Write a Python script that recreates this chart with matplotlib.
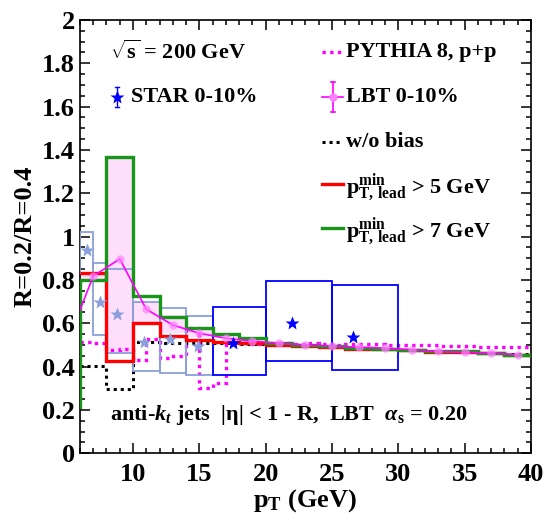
import numpy as np
import matplotlib
matplotlib.use("Agg")
import matplotlib.pyplot as plt
from matplotlib.patches import Rectangle


OUTPUT_FILE = "out.png"

# histogram bin edges (GeV)
EDGES = np.arange(6, 41, 2)
GREEN_EDGES = np.concatenate([[4], EDGES])
PYTHIA_EDGES = np.arange(6, 41, 1)
LBT_X = np.arange(5, 40, 2)

pythia = [0.515, 0.51, 0.477, 0.48, 0.43, 0.526, 0.438, 0.449, 0.577, 0.30, 0.324, 0.515,
          0.51, 0.505, 0.505, 0.51, 0.505, 0.51, 0.505, 0.50, 0.505, 0.505, 0.505,
          0.50, 0.50, 0.50, 0.50, 0.495, 0.495, 0.495, 0.49, 0.49, 0.49, 0.49]
no_bias = [0.403, 0.297, 0.514, 0.51, 0.51, 0.51, 0.505, 0.50, 0.495, 0.49, 0.485,
           0.48, 0.475, 0.47, 0.47, 0.465, 0.46]
lead5 = [0.831, 0.427, 0.603, 0.543, 0.523, 0.515, 0.51, 0.50, 0.495, 0.49, 0.48,
         0.48, 0.477, 0.467, 0.466, 0.461, 0.454]
lead7 = [0.215, 0.80, 1.367, 0.727, 0.630, 0.577, 0.549, 0.531, 0.51, 0.50, 0.495,
         0.485, 0.48, 0.477, 0.47, 0.47, 0.465, 0.455]
band_hi = [0.831, 1.367, 0.70, 0.638, 0.577, 0.549, 0.531, 0.51, 0.50, 0.495, 0.485,
           0.48, 0.477, 0.47, 0.47, 0.465, 0.455]
band_lo = [0.80, 0.469, 0.607, 0.555, 0.538, 0.53, 0.515, 0.50, 0.495, 0.49, 0.48,
           0.48, 0.477, 0.467, 0.466, 0.461, 0.454]
lbt = [0.504, 0.818, 0.897, 0.665, 0.592, 0.554, 0.531, 0.518, 0.508, 0.50, 0.495,
       0.49, 0.485, 0.478, 0.47, 0.466, 0.463, 0.455]

# STAR 0-10% points and systematic boxes
star_x = [6.5, 7.5, 8.8, 10.8, 12.8, 14.9, 17.5, 22.0, 26.6]
star_y = [0.938, 0.70, 0.643, 0.515, 0.526, 0.495, 0.51, 0.60, 0.538]
box_x0 = [6, 7, 8, 10, 12, 14, 16, 20, 25]
box_x1 = [7, 8, 10, 12, 14, 16, 20, 25, 30]
sys_lo = [0.831, 0.546, 0.461, 0.38, 0.372, 0.361, 0.361, 0.426, 0.384]
sys_hi = [1.023, 0.88, 0.849, 0.70, 0.669, 0.634, 0.674, 0.795, 0.777]
N_FADED = 6

LIGHT_BLUE = "#8a9fdc"
BLUE = "#0000ff"
MAGENTA = "#ff00ff"
RED = "#ff0000"
GREEN = "#189618"
PINK = "#fddffc"

FS_TICK = 19
FS_TEXT = 16


def setup_fonts():
    plt.rcParams["font.family"] = ["Liberation Serif", "DejaVu Serif"]
    plt.rcParams["font.weight"] = "bold"
    plt.rcParams["axes.labelweight"] = "bold"
    plt.rcParams["mathtext.fontset"] = "custom"
    plt.rcParams["mathtext.rm"] = "Liberation Serif:bold"
    plt.rcParams["mathtext.bf"] = "Liberation Serif:bold"
    plt.rcParams["mathtext.it"] = "Liberation Serif:bold:italic"
    plt.rcParams["mathtext.sf"] = "Liberation Serif:bold"


def draw_data(ax):
    ax.stairs(band_hi, EDGES, baseline=band_lo, fill=True, color=PINK, zorder=1)
    ax.stairs(no_bias, EDGES, baseline=None, color="black", lw=2.2,
              linestyle=(0, (1, 1.3)), zorder=2)
    ax.stairs(pythia, PYTHIA_EDGES, baseline=None, color=MAGENTA, lw=2.4,
              linestyle=(0, (1, 1.3)), zorder=3)

    for i in range(len(star_x)):
        col = LIGHT_BLUE if i < N_FADED else BLUE
        ax.add_patch(Rectangle((box_x0[i], sys_lo[i]), box_x1[i] - box_x0[i],
                               sys_hi[i] - sys_lo[i], fill=False, edgecolor=col,
                               lw=1.3, zorder=4))

    ax.stairs(lead5, EDGES, baseline=None, color=RED, lw=2.4, zorder=5)
    ax.stairs(lead7, GREEN_EDGES, baseline=None, color=GREEN, lw=2.4, zorder=5)

    ax.plot(LBT_X, lbt, color=MAGENTA, lw=1.2, zorder=6)
    ax.plot(LBT_X, lbt, "o", color="#ff80ff", ms=6, alpha=0.7, mec="none", zorder=6)

    ax.plot(star_x[:N_FADED], star_y[:N_FADED], "*", color=LIGHT_BLUE, ms=10,
            mec="none", zorder=7)
    ax.plot(star_x[N_FADED:], star_y[N_FADED:], "*", color=BLUE, ms=10,
            mec="none", zorder=7)


def draw_legend(ax):
    tr = ax.transAxes
    ax.text(0.066, 0.926, r"$\sqrt{\mathrm{s}}$ = 200 GeV", transform=tr,
            fontsize=FS_TEXT, va="center", ha="left")

    ax.plot([0.082, 0.082], [0.80, 0.845], color=BLUE, lw=1, transform=tr)
    ax.plot([0.077, 0.087], [0.80, 0.80], color=BLUE, lw=1, transform=tr)
    ax.plot([0.077, 0.087], [0.845, 0.845], color=BLUE, lw=1, transform=tr)
    ax.plot([0.082], [0.822], "*", color=BLUE, ms=10, mec="none", transform=tr)
    ax.text(0.113, 0.822, "STAR 0-10%", transform=tr, fontsize=FS_TEXT,
            va="center", ha="left")

    ax.plot([0.537, 0.583], [0.926, 0.926], color=MAGENTA, lw=2.4,
            linestyle=(0, (1, 1.3)), transform=tr)
    ax.text(0.59, 0.926, "PYTHIA 8, p+p", transform=tr, fontsize=FS_TEXT,
            va="center", ha="left")

    ax.plot([0.537, 0.583], [0.822, 0.822], color=MAGENTA, lw=1.2, transform=tr)
    ax.plot([0.561, 0.561], [0.787, 0.857], color=MAGENTA, lw=1.2, transform=tr)
    ax.plot([0.556, 0.566], [0.787, 0.787], color=MAGENTA, lw=1.2, transform=tr)
    ax.plot([0.556, 0.566], [0.857, 0.857], color=MAGENTA, lw=1.2, transform=tr)
    ax.plot([0.561], [0.822], "o", color="#ff80ff", ms=6, mec="none", transform=tr)
    ax.text(0.59, 0.822, "LBT 0-10%", transform=tr, fontsize=FS_TEXT,
            va="center", ha="left")

    ax.plot([0.537, 0.583], [0.718, 0.718], color="black", lw=2.2,
            linestyle=(0, (1, 1.3)), transform=tr)
    ax.text(0.59, 0.718, "w/o bias", transform=tr, fontsize=FS_TEXT,
            va="center", ha="left")

    lead = r"$\mathrm{p}_{\mathrm{T,\,lead}}^{\mathrm{min}}$"
    ax.plot([0.537, 0.583], [0.621, 0.621], color=RED, lw=2.4, transform=tr)
    ax.text(0.59, 0.612, lead + " > 5 GeV", transform=tr, fontsize=FS_TEXT,
            va="center", ha="left")
    ax.plot([0.537, 0.583], [0.52, 0.52], color=GREEN, lw=2.4, transform=tr)
    ax.text(0.59, 0.511, lead + " > 7 GeV", transform=tr, fontsize=FS_TEXT,
            va="center", ha="left")

    ax.text(0.066, 0.088,
            r"anti-$\mathit{k_t}$ jets  |η| < 1 - R,  LBT  $\alpha_{\mathrm{s}}$ = 0.20",
            transform=tr, fontsize=FS_TEXT, va="center", ha="left")


def style_axes(ax):
    ax.set_xlim(6, 40)
    ax.set_ylim(0, 2)
    ax.set_xticks([10, 15, 20, 25, 30, 35, 40])
    ax.set_xticks(np.arange(6, 41, 1), minor=True)
    ax.set_yticks(np.arange(0, 2.01, 0.2))
    ax.set_yticks(np.arange(0, 2.01, 0.05), minor=True)
    ax.set_yticklabels(["0", "0.2", "0.4", "0.6", "0.8", "1", "1.2", "1.4",
                        "1.6", "1.8", "2"])
    ax.tick_params(which="both", direction="in", top=True, right=True,
                   labelsize=FS_TICK, width=1.1)
    ax.tick_params(which="major", length=7)
    ax.tick_params(which="minor", length=3.5)
    ax.tick_params(axis="x", pad=7)
    for s in ax.spines.values():
        s.set_linewidth(1.2)
    ax.set_xlabel(r"$\mathrm{p}_{\mathrm{T}}$ (GeV)", fontsize=FS_TICK, labelpad=1)
    ax.set_ylabel("R=0.2/R=0.4", fontsize=FS_TICK, labelpad=4)


def main():
    setup_fonts()
    fig = plt.figure(figsize=(5.44, 5.25), dpi=100)
    ax = fig.add_axes([0.147, 0.1366, 0.829, 0.8253])
    draw_data(ax)
    draw_legend(ax)
    style_axes(ax)
    fig.savefig(OUTPUT_FILE, dpi=100)
    plt.close(fig)


if __name__ == "__main__":
    main()
